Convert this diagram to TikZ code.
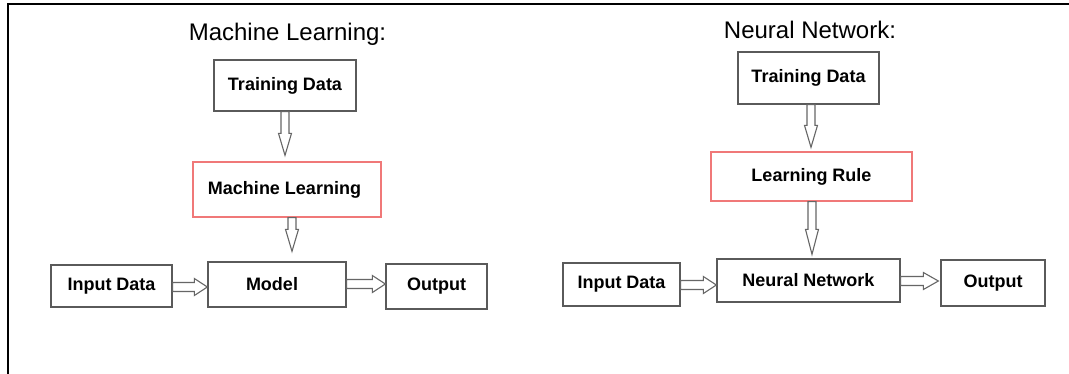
\documentclass[tikz,border=0pt]{standalone}
\usepackage{fontspec}
\setmainfont{Liberation Sans}
\usetikzlibrary{calc}
\definecolor{boxgray}{HTML}{5A5A5A}
\definecolor{boxred}{HTML}{F07878}
\definecolor{arrgray}{HTML}{666666}
\tikzset{
  box/.style={draw=boxgray, line width=1.3pt, fill=white, inner sep=0pt,
    font=\bfseries\fontsize{18}{20}\selectfont, text=black},
  redbox/.style={box, draw=boxred},
  title/.style={font=\fontsize{24}{28}\selectfont, anchor=base, inner sep=0pt},
  shaft/.store in=\baw, head/.store in=\bahw, headlen/.store in=\bahl,
  shaft=4pt, head=7pt, headlen=20pt,
  barrow/.style={draw=arrgray, line width=1.1pt, fill=white, line join=miter,
    to path={
      ($(\tikztostart)!\baw!90:(\tikztotarget)$)
      -- ($(\tikztotarget)!\bahl!(\tikztostart)!\baw!90:(\tikztotarget)$)
      -- ($(\tikztotarget)!\bahl!(\tikztostart)!\bahw!90:(\tikztotarget)$)
      -- (\tikztotarget)
      -- ($(\tikztotarget)!\bahl!(\tikztostart)!\bahw!-90:(\tikztotarget)$)
      -- ($(\tikztotarget)!\bahl!(\tikztostart)!\baw!-90:(\tikztotarget)$)
      -- ($(\tikztostart)!\baw!-90:(\tikztotarget)$) -- cycle}},
  varrow/.style={barrow, shaft=4pt, head=6.5pt, headlen=22pt},
  harrow/.style={barrow, shaft=4.5pt, head=8.5pt, headlen=13pt}
}
\begin{document}
\begin{tikzpicture}[x=1pt,y=-1pt]
\useasboundingbox (0,0) rectangle (1069,373);
\fill[white] (0,0) rectangle (1069,373);
% frame
\draw[line width=2pt, black] (8,374) -- (8,4) -- (1070,4);

% left diagram
\node[title] (t1) at (287.5,40) {Machine Learning:};
\node[box, minimum width=142, minimum height=51] (td1) at (285,85.5) {Training Data};
\node[redbox, minimum width=188, minimum height=55] (ml1) at (287,189.5) {Machine Learning\hspace*{5pt}};
\node[box, minimum width=138, minimum height=45] (model) at (277,284.5) {\raisebox{2pt}{Model}\hspace*{10pt}};
\node[box, minimum width=121, minimum height=42] (in1) at (111.5,286) {Input Data};
\node[box, minimum width=101, minimum height=45] (out1) at (436.5,286.5) {Output};

\draw[varrow] (td1.south) to ($(ml1.north)+(-2,-6)$);
\draw[varrow] ($(ml1.south)+(5,0)$) to ($(model.north)+(15,-10)$);
\draw[harrow] ($(in1.east)+(0,1)$) to ($(model.west)+(0,2.5)$);
\draw[harrow] ($(model.east)+(0,-0.5)$) to ($(out1.west)+(0,-2.5)$);

% right diagram
\node[title] (t2) at (810,38) {Neural Network:};
\node[box, minimum width=141, minimum height=52] (td2) at (808.5,78) {Training Data};
\node[redbox, minimum width=201, minimum height=49] (lr) at (811.5,176.5) {Learning Rule};
\node[box, minimum width=183, minimum height=43] (nn) at (808.5,280.5) {Neural Network};
\node[box, minimum width=117, minimum height=43] (in2) at (621.5,284.5) {Input Data};
\node[box, minimum width=104, minimum height=46] (out2) at (993,283) {Output};

\draw[varrow] ($(td2.south)+(2.5,0)$) to ($(lr.north)+(-0.5,-4)$);
\draw[varrow, headlen=25pt] ($(lr.south)+(0.5,0)$) to ($(nn.north)+(3.5,-4)$);
\draw[harrow] ($(in2.east)+(0,0.5)$) to ($(nn.west)+(0,4.5)$);
\draw[harrow, headlen=15pt] ($(nn.east)+(0,0.5)$) to ($(out2.west)+(-2,-2)$);
\end{tikzpicture}
\end{document}
